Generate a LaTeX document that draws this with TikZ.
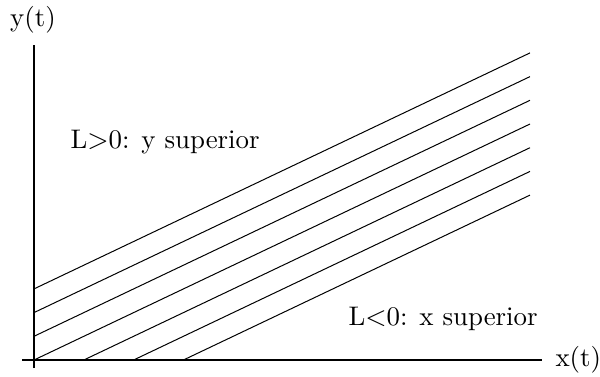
\documentclass[tikz,border=0pt]{standalone}
\usepackage{tikz}

\begin{document}
\begin{tikzpicture}[x=0.4pt, y=0.4pt, thin, font=\fontsize{10.75}{13}\selectfont]
  \useasboundingbox (0,0) rectangle (600,376);
  % axes
  \coordinate (O) at (34,16);
  \coordinate (xs) at (22,16);
  \coordinate (xe) at (542,16);
  \coordinate (ys) at (34,8);
  \coordinate (ye) at (34,331);
  \draw[line width=0.6pt] (xs) -- (xe);
  \draw[line width=0.6pt] (ys) -- (ye);
  \node[right, inner sep=0pt] (xlab) at (555,16) {x(t)};
  \node[inner sep=0pt] (ylab) at (33,356) {y(t)};
  % level lines
  \foreach \k in {0,1,2,3} {
    \coordinate (a\k) at (34,16+23.7*\k);
    \coordinate (b\k) at (530,252+23.7*\k);
    \draw (a\k) -- (b\k);
  }
  \foreach \k in {1,2,3} {
    \coordinate (c\k) at (34+49.8*\k,16);
    \coordinate (d\k) at (530,252-23.7*\k);
    \draw (c\k) -- (d\k);
  }
  \node[anchor=base west, inner sep=0pt] (pos) at (70,228) {L$>$0: y superior};
  \node[anchor=base west, inner sep=0pt] (neg) at (348,51) {L$<$0: x superior};
\end{tikzpicture}
\end{document}
